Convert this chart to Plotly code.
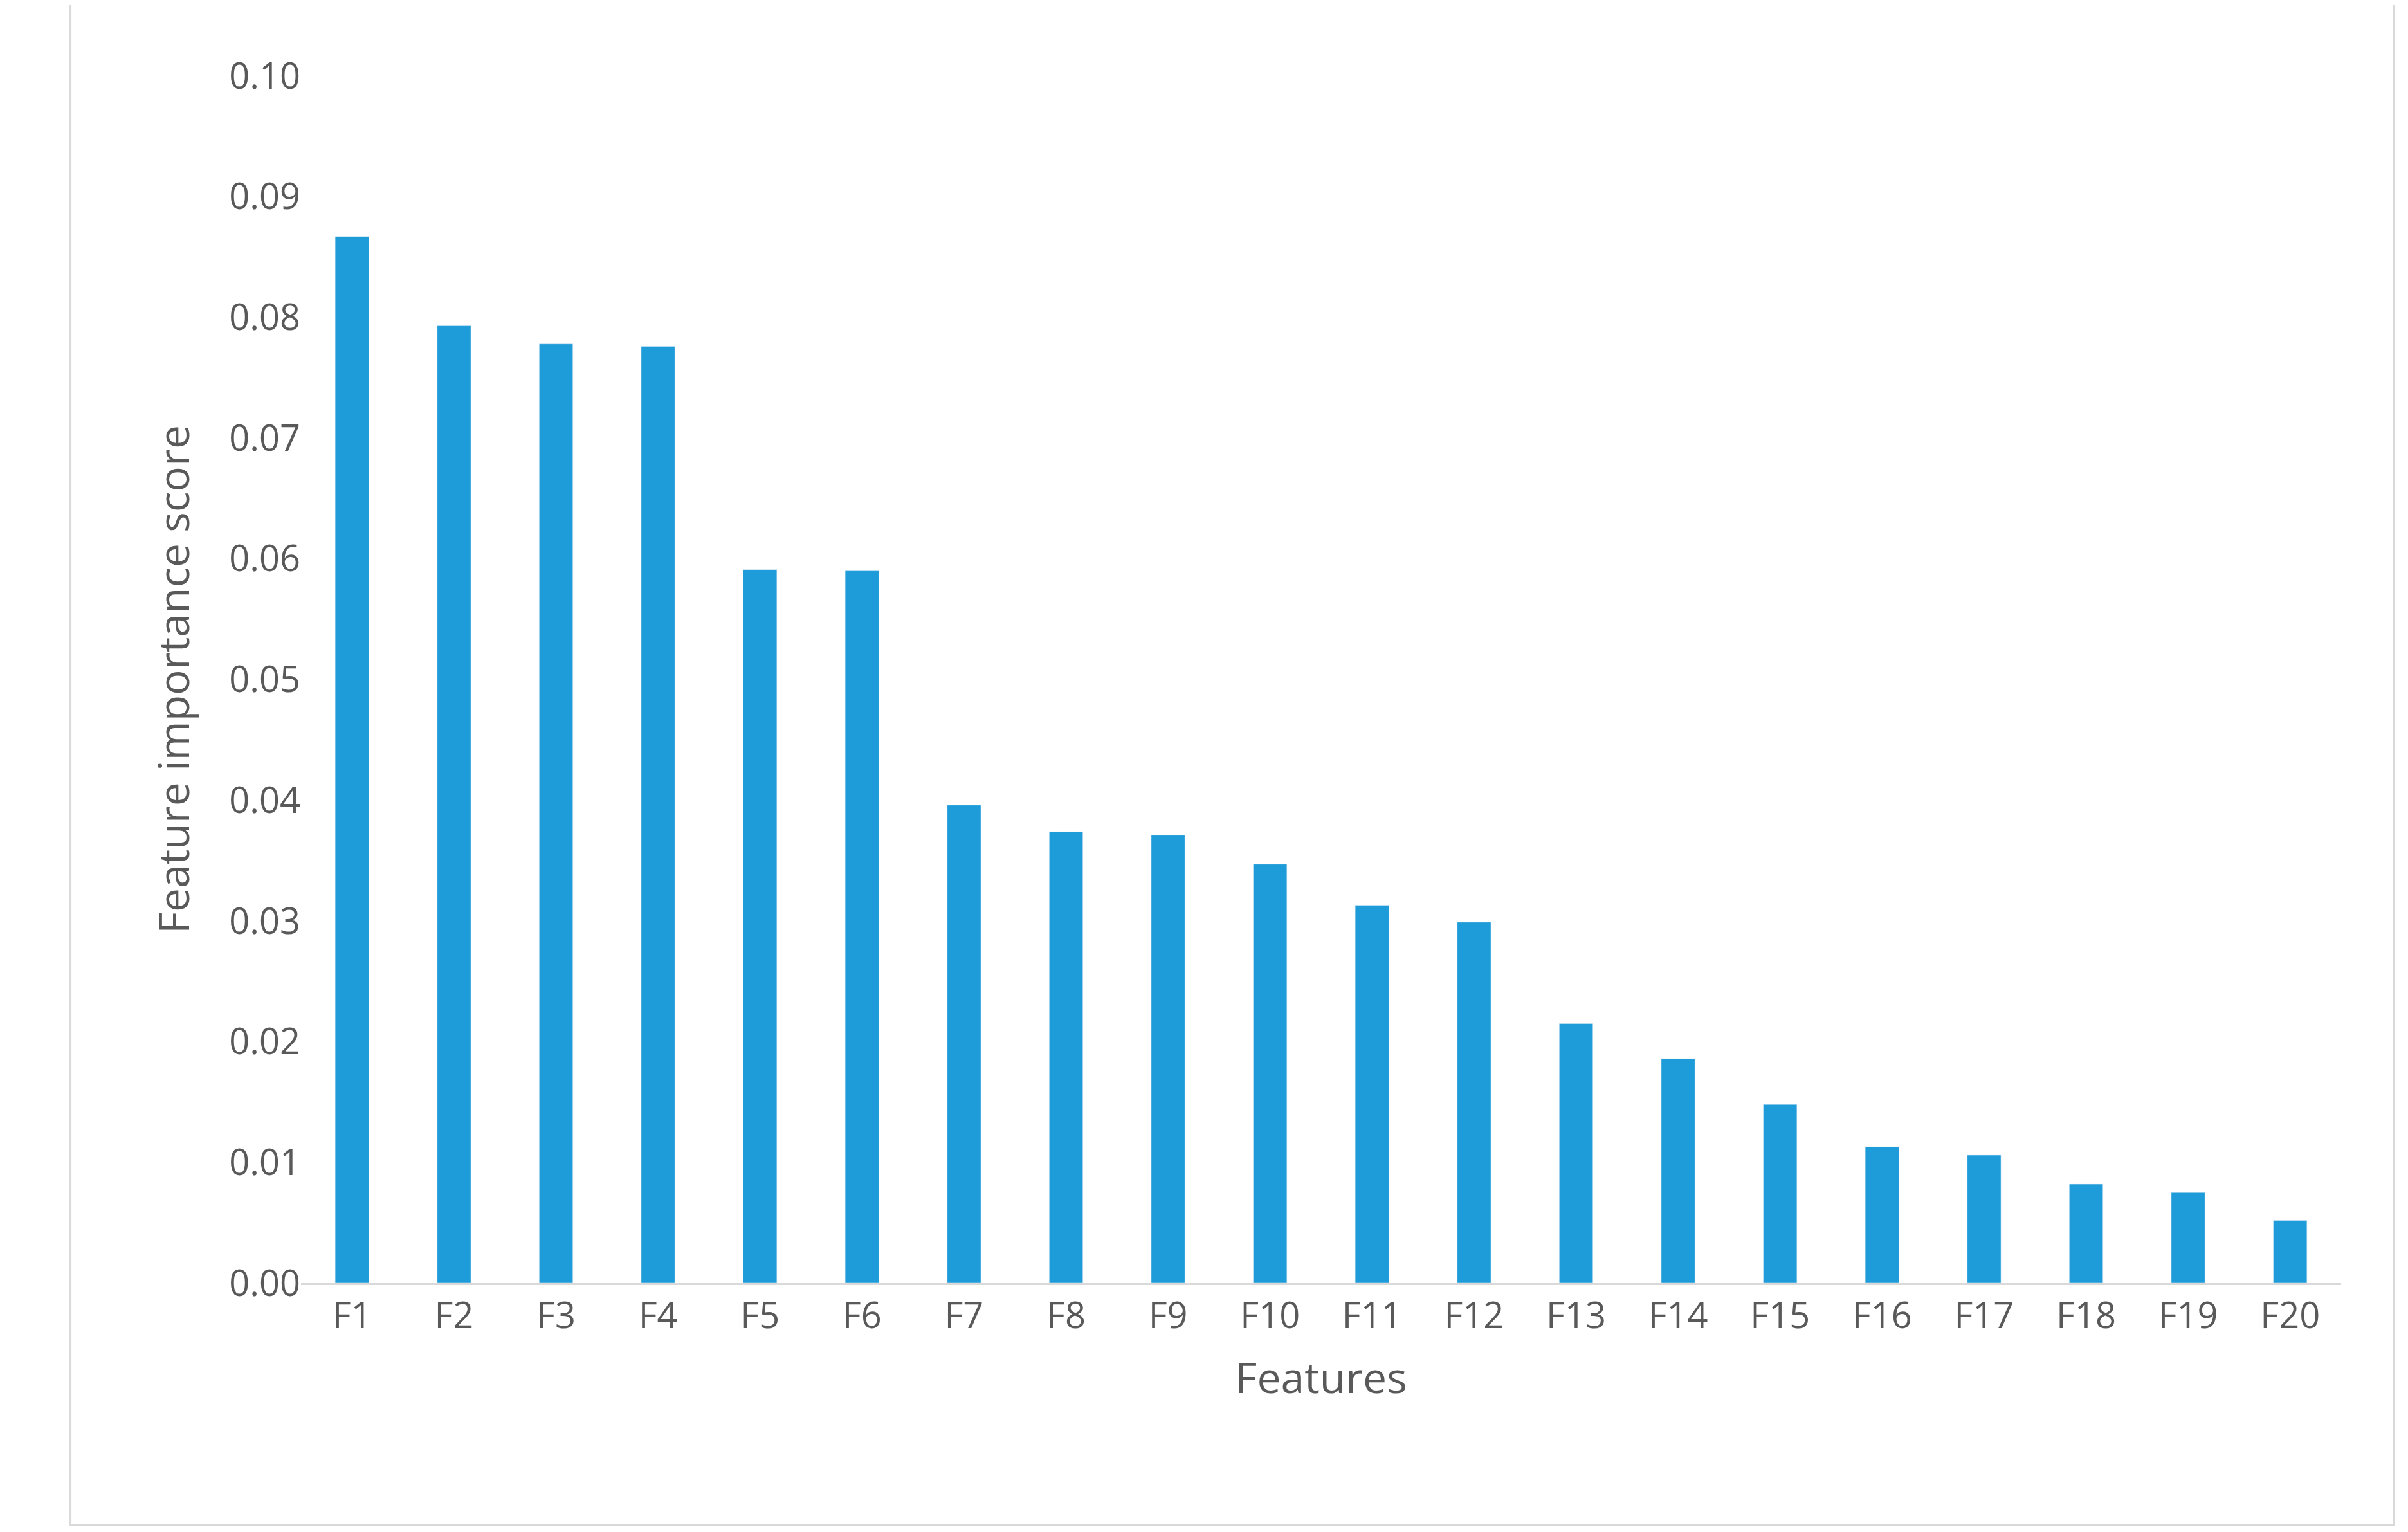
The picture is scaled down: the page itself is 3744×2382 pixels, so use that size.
import plotly.graph_objects as go

features = [f"F{i}" for i in range(1, 21)]
scores = [0.0867, 0.0793, 0.0778, 0.0776, 0.0591, 0.0590, 0.0396, 0.0374, 0.0371, 0.0347,
          0.0313, 0.0299, 0.0215, 0.0186, 0.0148, 0.0113, 0.0106, 0.0082, 0.0075, 0.0052]
yticks = [0.0, 0.01, 0.02, 0.03, 0.04, 0.05, 0.06, 0.07, 0.08, 0.09, 0.10]

fig = go.Figure(go.Bar(x=features, y=scores, marker_color="#1E9CD9", width=0.33))
fig.update_layout(
    width=3744, height=2382, paper_bgcolor="white", plot_bgcolor="white",
    margin=dict(l=460, r=112, t=110, b=395),
    font=dict(family="Open Sans, Calibri, sans-serif", color="#595959"),
    showlegend=False,
    shapes=[dict(type="rect", xref="paper", yref="paper", x0=-0.113, x1=1.026, y0=-0.2, y1=1.06,
                 line=dict(color="#D9D9D9", width=3))],
)
fig.update_xaxes(title=dict(text="Features", font=dict(size=66), standoff=40),
                 tickfont=dict(size=56), showline=True, linecolor="#D9D9D9", linewidth=3,
                 ticks="", showgrid=False)
fig.update_yaxes(title=dict(text="Feature importance score", font=dict(size=66), standoff=40),
                 range=[0, 0.1], tickvals=yticks, tickformat=".2f", tickfont=dict(size=56),
                 showgrid=False, zeroline=False, showline=False, ticks="")
fig.write_html("out.html")
